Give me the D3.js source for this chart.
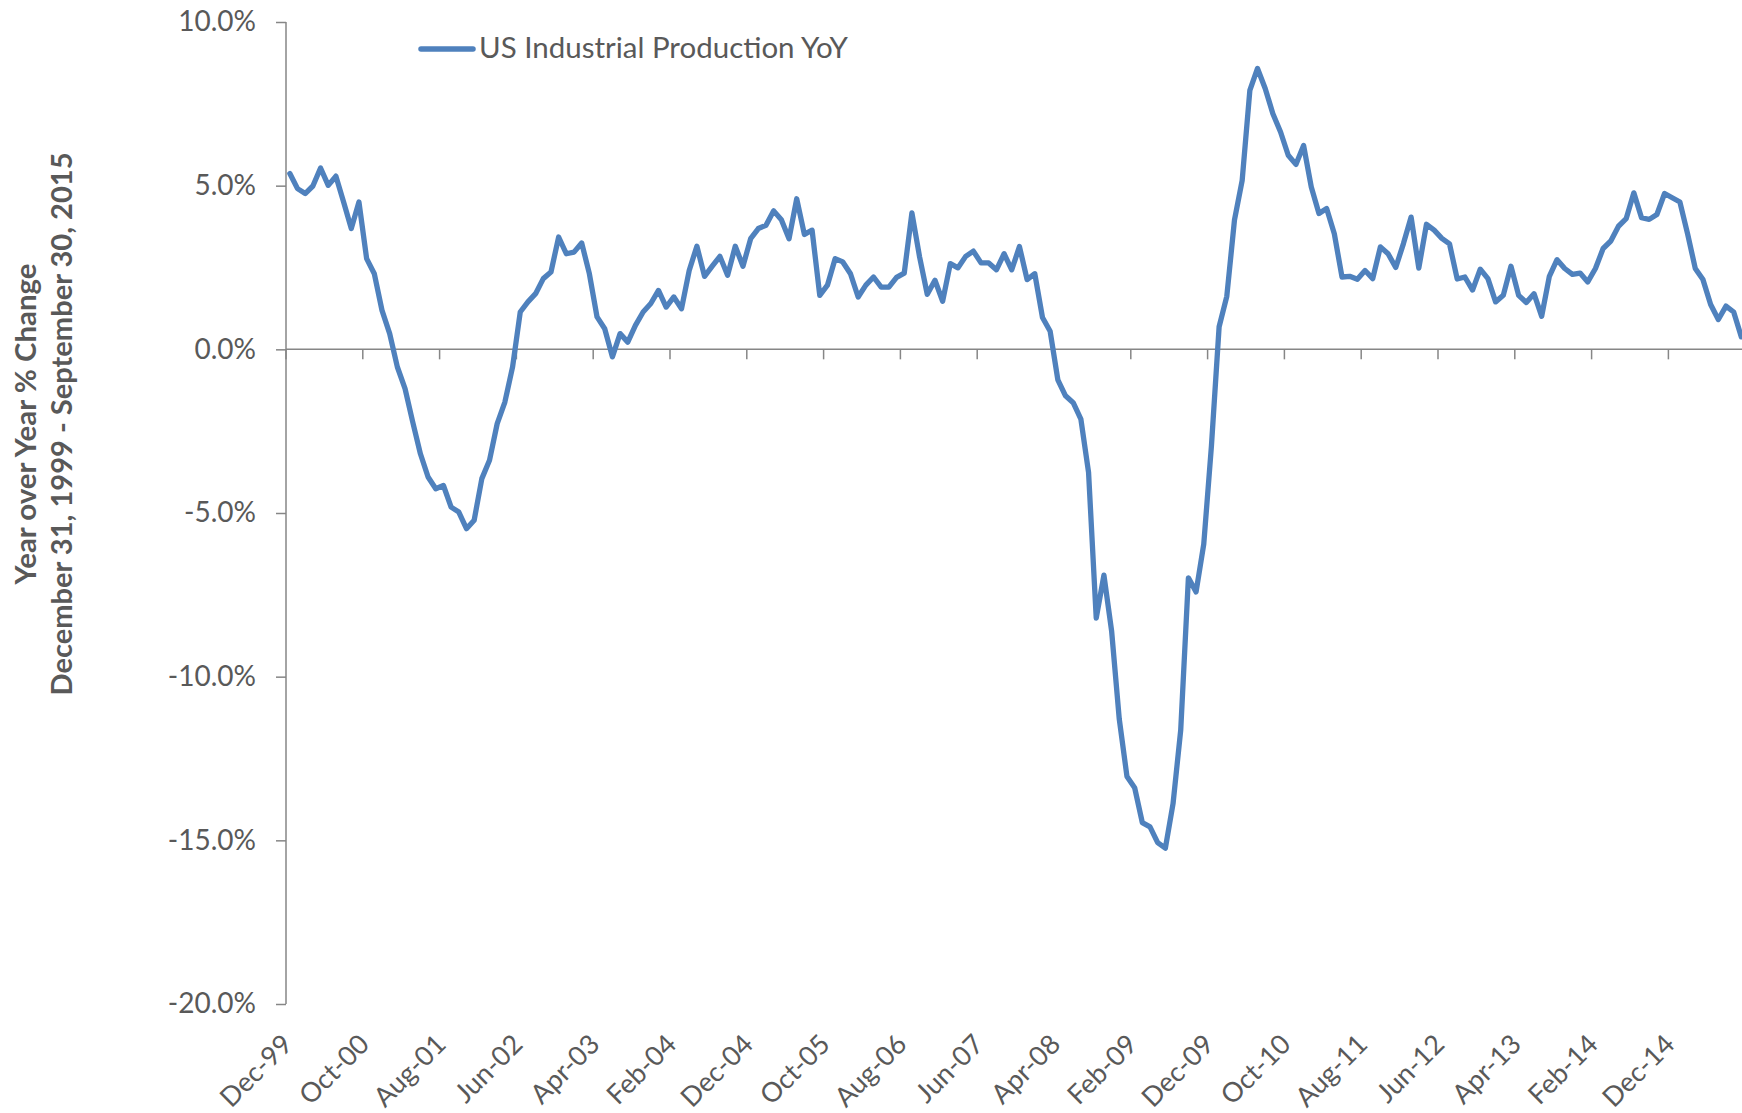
<!DOCTYPE html>
<html>
<head>
<meta charset="utf-8">
<script src="https://cdn.jsdelivr.net/npm/d3@7"></script>
<style>
body { margin: 0; background: #fff; }
text { font-family: Lato, "Open Sans", sans-serif; fill: #595959; }
</style>
</head>
<body>
<script>
// monthly YoY % change, Dec-99 .. Sep-15
var ipYoY = [
 5.37, 4.91, 4.76, 4.99, 5.54, 5.01, 5.29, 4.50, 3.69, 4.50,
 2.77, 2.31, 1.19, 0.48, -0.54, -1.20, -2.22, -3.19, -3.90, -4.26,
 -4.16, -4.82, -4.97, -5.48, -5.22, -3.95, -3.39, -2.27, -1.61, -0.54,
 1.14, 1.45, 1.70, 2.16, 2.36, 3.43, 2.92, 2.97, 3.25, 2.31,
 0.99, 0.63, -0.23, 0.48, 0.22, 0.73, 1.14, 1.40, 1.80, 1.29,
 1.60, 1.24, 2.41, 3.15, 2.23, 2.54, 2.84, 2.26, 3.15, 2.54,
 3.38, 3.69, 3.79, 4.23, 3.96, 3.38, 4.60, 3.51, 3.64, 1.65,
 1.96, 2.77, 2.67, 2.31, 1.60, 1.96, 2.21, 1.90, 1.90, 2.20,
 2.33, 4.17, 2.82, 1.68, 2.11, 1.47, 2.62, 2.49, 2.84, 3.00,
 2.64, 2.64, 2.43, 2.92, 2.43, 3.14, 2.13, 2.31, 0.97, 0.55,
 -0.93, -1.42, -1.63, -2.13, -3.76, -8.21, -6.90, -8.60, -11.30, -13.05,
 -13.39, -14.46, -14.59, -15.07, -15.24, -13.88, -11.63, -6.98, -7.41, -5.95,
 -2.95, 0.69, 1.62, 3.95, 5.16, 7.91, 8.58, 7.97, 7.20, 6.64,
 5.93, 5.65, 6.23, 4.96, 4.15, 4.30, 3.53, 2.21, 2.23, 2.14,
 2.41, 2.16, 3.13, 2.92, 2.50, 3.23, 4.04, 2.48, 3.82, 3.64,
 3.39, 3.22, 2.15, 2.21, 1.81, 2.45, 2.16, 1.45, 1.65, 2.54,
 1.65, 1.43, 1.70, 1.01, 2.23, 2.74, 2.47, 2.29, 2.33, 2.06,
 2.47, 3.08, 3.31, 3.76, 3.99, 4.78, 4.02, 3.97, 4.12, 4.76,
 4.63, 4.50, 3.53, 2.47, 2.13, 1.37, 0.91, 1.32, 1.14, 0.38
];
var xTickLabels = ["Dec-99","Oct-00","Aug-01","Jun-02","Apr-03","Feb-04","Dec-04","Oct-05","Aug-06","Jun-07",
 "Apr-08","Feb-09","Dec-09","Oct-10","Aug-11","Jun-12","Apr-13","Feb-14","Dec-14"];
var yTicks = [10, 5, 0, -5, -10, -15, -20];
var seriesName = "US Industrial Production YoY";
var yTitle = ["Year over Year % Change", "December 31, 1999 - September 30, 2015"];

var W = 1742, H = 1113;
var svg = d3.select("body").append("svg").attr("width", W).attr("height", H);

var idx = d3.range(ipYoY.length);
var x = d3.scaleBand().domain(idx).range([286, 286 + ipYoY.length * 7.68]).paddingInner(0).paddingOuter(0);
var y = d3.scaleLinear().domain([-20, 10]).range([1004, 22]);
var axisCol = "#868686";

// y axis
var yAxis = svg.append("g").attr("transform", "translate(286,0)")
  .call(d3.axisLeft(y).tickValues(yTicks).tickSize(10).tickPadding(20).tickFormat(function(d){ return d.toFixed(1) + "%"; }));
yAxis.select(".domain").attr("stroke", axisCol).attr("stroke-width", 1.5).attr("d", "M0," + y(-20) + "V" + y(10));
yAxis.selectAll(".tick line").attr("stroke", axisCol).attr("stroke-width", 1.5);
yAxis.selectAll(".tick text").attr("font-size", 28).attr("fill", "#595959").attr("font-family", "Lato, sans-serif");

// x axis at zero
var tickIdx = idx.filter(function(i){ return i % 10 == 0; });
var xAxis = svg.append("g").attr("transform", "translate(0," + y(0) + ")");
xAxis.append("line").attr("x1", 286).attr("x2", W + 10).attr("y1", 0).attr("y2", 0)
  .attr("stroke", axisCol).attr("stroke-width", 1.5);
xAxis.selectAll("line.tk").data(tickIdx).enter().append("line").attr("class", "tk")
  .attr("x1", function(i){ return x(i); }).attr("x2", function(i){ return x(i); })
  .attr("y1", 0).attr("y2", 10).attr("stroke", axisCol).attr("stroke-width", 1.5);

// x labels at the bottom, rotated
svg.selectAll("text.xl").data(tickIdx).enter().append("text").attr("class", "xl")
  .attr("transform", function(i){ return "translate(" + (x(i) + 8) + ",1046) rotate(-45)"; })
  .attr("text-anchor", "end").attr("font-size", 27)
  .text(function(i, k){ return xTickLabels[k]; });

// series line
var line = d3.line().x(function(d, i){ return x(i) + x.bandwidth() / 2; }).y(function(d){ return y(d); });
svg.append("path").datum(ipYoY).attr("d", line).attr("fill", "none")
  .attr("stroke", "#4F81BD").attr("stroke-width", 5.3).attr("stroke-linejoin", "round").attr("stroke-linecap", "round");

// legend
svg.append("line").attr("x1", 421).attr("x2", 473).attr("y1", 49).attr("y2", 49)
  .attr("stroke", "#4F81BD").attr("stroke-width", 5.5).attr("stroke-linecap", "round");
svg.append("text").attr("x", 479).attr("y", 58).attr("font-size", 28)
  .attr("textLength", 369).attr("lengthAdjust", "spacingAndGlyphs").text(seriesName);

// y title
var tt = svg.append("text").attr("transform", "translate(0,424) rotate(-90)")
  .attr("text-anchor", "middle").attr("font-weight", "bold").attr("font-size", 28);
tt.append("tspan").attr("x", 0).attr("y", 36).attr("textLength", 321).attr("lengthAdjust", "spacingAndGlyphs").text(yTitle[0]);
tt.append("tspan").attr("x", 0).attr("y", 72).attr("textLength", 543).attr("lengthAdjust", "spacingAndGlyphs").text(yTitle[1]);
</script>
</body>
</html>
